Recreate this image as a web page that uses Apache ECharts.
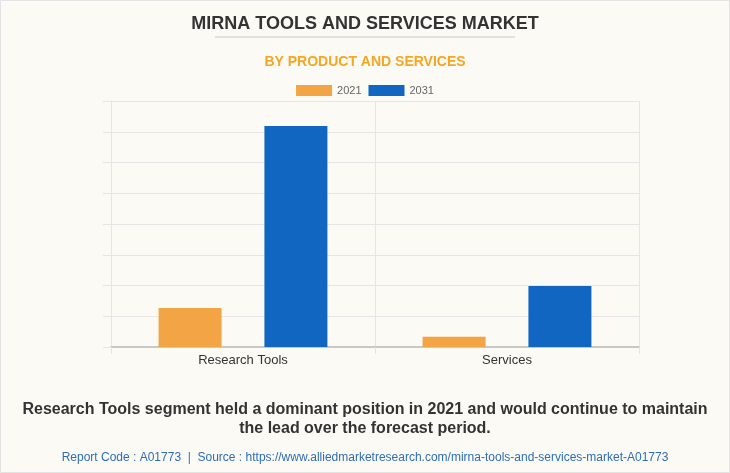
<!DOCTYPE html>
<html>
<head>
<meta charset="utf-8">
<script src="https://cdn.jsdelivr.net/npm/echarts@6/dist/echarts.min.js"></script>
<style>
html,body{margin:0;padding:0;background:#fbfaf5;}
#chart{width:730px;height:473px;}
</style>
</head>
<body>
<div id="chart"></div>
<script>
var categories = ['Research Tools', 'Services'];
var seriesNames = ['2021', '2031'];
var values2021 = [1.27, 0.33];
var values2031 = [7.19, 1.98];
var colors = ['#f3a445', '#1166c1'];

var chart = echarts.init(document.getElementById('chart'));
chart.setOption({
  backgroundColor: '#fbfaf5',
  animation: false,
  title: [
    {text: 'MIRNA TOOLS AND SERVICES MARKET', left: 'center', top: 10,
     textStyle: {fontFamily: 'Liberation Sans', fontSize: 18, fontWeight: 'bold', color: '#333333'}},
    {text: 'BY PRODUCT AND SERVICES', left: 'center', top: 50,
     textStyle: {fontFamily: 'Liberation Sans', fontSize: 14, fontWeight: 'bold', color: '#f5a623'}},
    {text: 'Report Code : A01773  |  Source : https://www.alliedmarketresearch.com/mirna-tools-and-services-market-A01773',
     left: 'center', top: 447,
     textStyle: {fontFamily: 'Liberation Sans', fontSize: 12, fontWeight: 'normal', color: '#2f6db5'}}
  ],
  graphic: [
    {type: 'line', shape: {x1: 215, y1: 37, x2: 515, y2: 37}, style: {stroke: '#c8c8c8', lineWidth: 1}},
    {type: 'rect', shape: {x: 0.5, y: 0.5, width: 729, height: 472}, style: {fill: 'none', stroke: '#e3e3e3', lineWidth: 1}},
    {type: 'text', x: 365, y: 400,
     style: {text: 'Research Tools segment held a dominant position in 2021 and would continue to maintain\nthe lead over the forecast period.',
       align: 'center', verticalAlign: 'top', fontFamily: 'Liberation Sans', fontSize: 16, fontWeight: 'bold',
       fill: '#333333', lineHeight: 19}}
  ],
  legend: {
    top: 80, left: 'center', itemWidth: 36, itemHeight: 11, itemGap: 7, icon: 'rect',
    textStyle: {fontFamily: 'Liberation Sans', fontSize: 11, color: '#666666'},
    data: seriesNames
  },
  grid: {left: 111, right: 91, top: 101, bottom: 126},
  xAxis: {
    type: 'category', data: categories,
    axisLine: {lineStyle: {color: '#c8c8c8', width: 2}},
    axisTick: {show: true, length: 7, lineStyle: {color: '#e3e3e3'}},
    splitLine: {show: true, lineStyle: {color: '#e6e6e6'}},
    axisLabel: {fontFamily: 'Liberation Sans', fontSize: 13, color: '#333333', margin: 7}
  },
  yAxis: {
    type: 'value', min: 0, max: 8, interval: 1,
    axisLine: {show: true, lineStyle: {color: '#e6e6e6'}},
    axisTick: {show: true, length: 8, lineStyle: {color: '#e6e6e6'}},
    axisLabel: {show: false},
    splitLine: {show: true, lineStyle: {color: '#e6e6e6'}}
  },
  series: [
    {name: seriesNames[0], type: 'bar', data: values2021, barWidth: 63, barGap: '68%',
     itemStyle: {color: colors[0]}},
    {name: seriesNames[1], type: 'bar', data: values2031, barWidth: 63,
     itemStyle: {color: colors[1]}}
  ]
});
</script>
</body>
</html>
